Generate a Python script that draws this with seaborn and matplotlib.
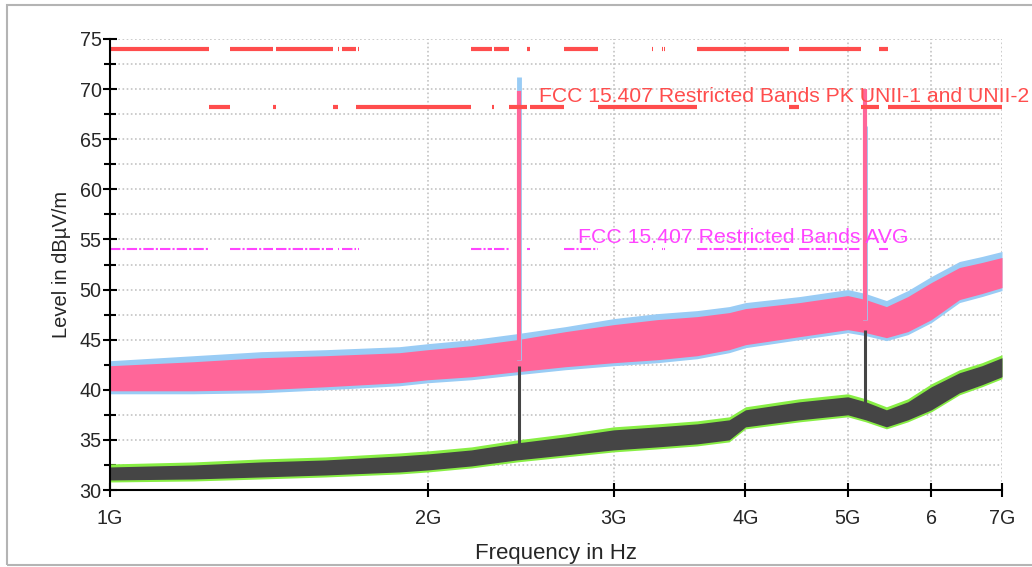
import numpy as np
import pandas as pd
import seaborn as sns
import matplotlib.pyplot as plt
from matplotlib.ticker import NullLocator, MultipleLocator
from matplotlib.patches import Rectangle

# sweep envelope (GHz / dBuV/m)
freq_ghz = [1.0, 1.2, 1.39, 1.6, 1.88, 2.0, 2.2, 2.43, 2.7, 3.0, 3.3, 3.6, 3.86,
            4.0, 4.5, 5.0, 5.2, 5.44, 5.7, 6.0, 6.38, 6.7, 7.0]
pk_hi = [42.4, 42.8, 43.2, 43.4, 43.7, 44.0, 44.4, 45.0, 45.8, 46.5, 47.0, 47.3, 47.7,
         48.1, 48.7, 49.4, 49.0, 48.3, 49.3, 50.7, 52.2, 52.7, 53.2]
pk_lo = [39.9, 39.9, 40.0, 40.3, 40.7, 41.0, 41.3, 41.8, 42.3, 42.7, 43.0, 43.4, 44.0,
         44.5, 45.3, 46.0, 45.7, 45.2, 45.8, 47.0, 49.0, 49.6, 50.2]
raw_hi = [42.9, 43.4, 43.8, 44.0, 44.3, 44.6, 45.0, 45.6, 46.3, 47.1, 47.6, 47.9, 48.3,
          48.7, 49.3, 50.0, 49.6, 48.9, 49.9, 51.3, 52.8, 53.3, 53.8]
raw_lo = [39.6, 39.6, 39.7, 40.0, 40.4, 40.7, 41.0, 41.5, 42.0, 42.4, 42.7, 43.1, 43.7,
          44.2, 45.0, 45.7, 45.4, 44.9, 45.5, 46.7, 48.7, 49.3, 49.9]
av_hi = [32.3, 32.5, 32.8, 33.0, 33.4, 33.6, 34.0, 34.7, 35.3, 36.0, 36.3, 36.6, 37.0,
         38.0, 38.8, 39.3, 38.8, 38.0, 38.8, 40.3, 41.7, 42.4, 43.2]
av_lo = [31.0, 31.1, 31.3, 31.5, 31.8, 32.0, 32.4, 33.0, 33.5, 34.0, 34.3, 34.6, 35.0,
         36.3, 37.0, 37.5, 37.0, 36.3, 37.0, 38.0, 39.7, 40.5, 41.3]
avraw_hi = [32.6, 32.8, 33.1, 33.3, 33.7, 33.9, 34.3, 35.0, 35.6, 36.3, 36.6, 36.9, 37.3,
            38.3, 39.1, 39.6, 39.1, 38.3, 39.1, 40.6, 42.0, 42.7, 43.5]
avraw_lo = [30.8, 30.9, 31.1, 31.3, 31.6, 31.8, 32.2, 32.8, 33.3, 33.8, 34.1, 34.4, 34.8,
            36.1, 36.8, 37.3, 36.8, 36.1, 36.8, 37.8, 39.5, 40.3, 41.1]

# carriers
spike_ghz = [2.44, 5.19]
spike_pk = [69.8, 70.0]
spike_raw = [71.2, 66.3]
spike_pk_base = [43.0, 47.0]
spike_av = [42.4, 46.0]
spike_av_base = [33.8, 38.0]

# FCC 15.205 restricted bands inside 1-7 GHz (PK 74 / AV 54)
restricted = [(1.0, 1.24), (1.3, 1.427), (1.435, 1.6265), (1.6455, 1.6465), (1.66, 1.71),
              (1.7188, 1.7222), (2.2, 2.3), (2.31, 2.39), (2.4835, 2.5), (2.69, 2.9),
              (3.26, 3.267), (3.332, 3.339), (3.3458, 3.358), (3.6, 4.4), (4.5, 5.15),
              (5.35, 5.46)]
# stretches drawn at the UNII-1/UNII-2 limit
unii_bands = [(1.24, 1.3), (1.427, 1.435), (1.6265, 1.6455), (1.71, 2.2), (2.3, 2.31),
              (2.39, 2.4835), (2.5, 2.69), (2.9, 3.6), (4.4, 4.5), (5.15, 5.35), (5.46, 7.0)]
pk_limit = 74.0
unii_limit = 68.2
avg_limit = 54.0

xticks_ghz = [1, 2, 3, 4, 5, 6, 7]
xtick_labels = ["1G", "2G", "3G", "4G", "5G", "6", "7G"]

sns.set_style("white")
plt.rcParams["font.family"] = ["Liberation Sans", "DejaVu Sans"]

fig = plt.figure(figsize=(10.32, 5.67), dpi=100)
ax = fig.add_axes([110 / 1032, 1 - 490 / 567, 892 / 1032, 451 / 567])

f = np.array(freq_ghz) * 1e9
ax.fill_between(f, raw_lo, raw_hi, color="#99ccf5", lw=0, zorder=2)
ax.fill_between(f, pk_lo, pk_hi, color="#ff6699", lw=0, zorder=3)
ax.fill_between(f, avraw_lo, avraw_hi, color="#88ee44", lw=0, zorder=2)
ax.fill_between(f, av_lo, av_hi, color="#454545", lw=0, zorder=3)

sf = np.array(spike_ghz) * 1e9
ax.vlines(sf, spike_pk_base, spike_raw, color="#99ccf5", lw=3.5, zorder=3)
ax.vlines(sf, spike_pk_base, spike_pk, color="#ff6699", lw=3, zorder=4)
ax.vlines(sf, spike_av_base, spike_av, color="#454545", lw=2.2, zorder=4)


def seg_df(bands, level):
    rows = []
    for i, (lo, hi) in enumerate(bands):
        rows.append({"f": lo * 1e9, "v": level, "seg": i})
        rows.append({"f": hi * 1e9, "v": level, "seg": i})
    return pd.DataFrame(rows)


sns.lineplot(data=seg_df(restricted, pk_limit), x="f", y="v", units="seg", estimator=None,
             color="#ff4d4d", lw=3, ax=ax, zorder=5, solid_capstyle="butt")
sns.lineplot(data=seg_df(unii_bands, unii_limit), x="f", y="v", units="seg", estimator=None,
             color="#ff4d4d", lw=3, ax=ax, zorder=5, solid_capstyle="butt")
sns.lineplot(data=seg_df(restricted, avg_limit), x="f", y="v", units="seg", estimator=None,
             color="#ff44ff", lw=1.5, ax=ax, zorder=5)
for line in ax.lines[-len(restricted):]:
    line.set_dashes((5, 1, 1, 1))

ax.text(2.549e9, 68.7, "FCC 15.407 Restricted Bands PK UNII-1 and UNII-2",
        color="#ff4d4d", fontsize=15.2, va="baseline", clip_on=False, zorder=6)
ax.text(2.775e9, 54.6, "FCC 15.407 Restricted Bands AVG",
        color="#ff44ff", fontsize=15.3, va="baseline", zorder=6)

ax.set_xscale("log")
ax.set_xlim(1e9, 7e9)
ax.set_ylim(30, 75)
ax.set_xticks([t * 1e9 for t in xticks_ghz])
ax.set_xticklabels(xtick_labels)
ax.xaxis.set_minor_locator(NullLocator())
ax.yaxis.set_major_locator(MultipleLocator(5))
ax.yaxis.set_minor_locator(MultipleLocator(2.5))

ax.tick_params(axis="both", which="both", bottom=True, left=True, top=False, right=False)
ax.tick_params(axis="both", which="major", direction="inout", length=10, width=1.5,
               labelsize=14.2, color="black")
ax.tick_params(axis="y", which="minor", direction="inout", length=9, width=1.5, color="black")
ax.tick_params(axis="x", pad=8.5)
ax.tick_params(axis="y", pad=1)

ax.grid(True, which="major", axis="x", color="#c4c4c4", ls=(0, (1, 1.5)), lw=1.2)
ax.grid(True, which="both", axis="y", color="#c4c4c4", ls=(0, (1, 1.5)), lw=1.2)
ax.set_axisbelow(True)

for s in ["top", "right"]:
    ax.spines[s].set_visible(False)
for s in ["left", "bottom"]:
    ax.spines[s].set_color("black")
    ax.spines[s].set_linewidth(1.5)
    ax.spines[s].set_zorder(7)

ax.set_xlabel("Frequency in Hz", fontsize=16, labelpad=11)
ax.set_ylabel("Level in dBµV/m", fontsize=14.5, labelpad=6)

fig.patches.append(Rectangle((7 / 1032, 2 / 567), 1.1, 560 / 567, transform=fig.transFigure,
                             fill=False, edgecolor="#b4b4b4", lw=1.5, zorder=0))

fig.savefig("out.png", dpi=100)
